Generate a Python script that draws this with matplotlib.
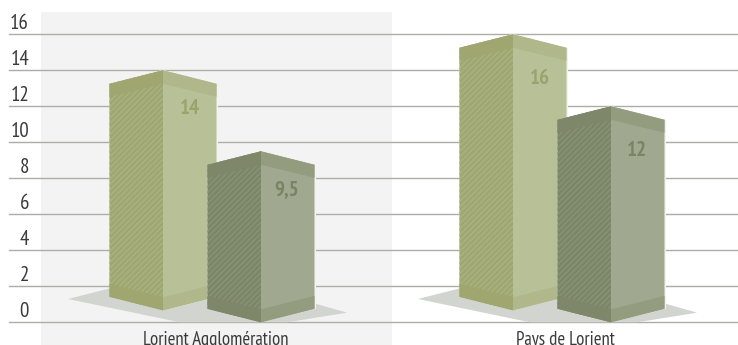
import logging
import matplotlib.pyplot as plt
from matplotlib.patches import Polygon, Rectangle

logging.getLogger('matplotlib.font_manager').setLevel(logging.ERROR)
plt.rcParams['font.family'] = ['PT Sans Narrow', 'Roboto Condensed', 'Liberation Sans', 'DejaVu Sans']
plt.rcParams['hatch.linewidth'] = 1.5

# Data
categories = ["Lorient Agglomération", "Pays de Lorient"]
series_a = [14, 16]
series_b = [9.5, 12]
value_labels_a = ["14", "16"]
value_labels_b = ["9,5", "12"]
y_ticks = [0, 2, 4, 6, 8, 10, 12, 14, 16]

# Layout, in pixels of the 738x345 picture
W, H = 738, 345
PX = 18.0          # pixels for one unit of value
Y0 = 322.3         # pixel row of value 0
GROUP_STEP = 350
HALF = 53.5        # half width of a bar
CAP = 13.5         # drop from the peak to the side corners
BAND = 13.0        # height of the pale bands, top and bottom


def v(px):
    """ pixel rows to value units """
    return (Y0 - px) / PX


def draw_bar(ax, mid, value, base, c, z):
    """ one fake 3D bar: mid is the pixel column of the front edge,
    base the height in pixels of its foot above the zero line """
    top = value
    foot = base / PX
    cap = CAP / PX
    band = BAND / PX
    l, r = mid - HALF, mid + HALF

    # thin pale halo that cuts the grid lines
    ax.add_patch(Polygon([(l, top - cap), (mid, top + 0.03), (r + 1.5, top - cap),
                          (r + 1.5, foot + cap), (mid, foot), (l, foot + cap)],
                         fc='#f2f3ec', ec='none', zorder=z))

    # left face with its stripes
    ax.add_patch(Polygon([(l, top - cap), (mid, top), (mid, foot), (l, foot + cap)],
                         fc=c['left'], ec=c['stripe'], hatch='//////', lw=0, zorder=z + 0.1))
    # right face
    ax.add_patch(Polygon([(mid, top), (r, top - cap), (r, foot + cap), (mid, foot)],
                         fc=c['right'], ec='none', zorder=z + 0.1))
    # top bands
    ax.add_patch(Polygon([(l, top - cap), (mid, top), (mid, top - cap), (l, top - cap - band)],
                         fc=c['dark'], ec='none', zorder=z + 0.2))
    ax.add_patch(Polygon([(mid, top), (r, top - cap), (r, top - cap - band), (mid, top - cap)],
                         fc=c['mid'], ec='none', zorder=z + 0.2))
    # bottom bands
    ax.add_patch(Polygon([(l, foot + cap + band), (mid, foot + band), (mid, foot), (l, foot + cap)],
                         fc=c['dark'], ec='none', zorder=z + 0.2))
    ax.add_patch(Polygon([(mid, foot + band), (r, foot + cap + band), (r, foot + cap), (mid, foot)],
                         fc=c['mid'], ec='none', zorder=z + 0.2))


light = {'left': '#9da66f', 'stripe': '#a7af7e', 'right': '#b8c098',
         'dark': '#9fa670', 'mid': '#b0b78a', 'text': '#9ba36c'}
dark = {'left': '#7a8567', 'stripe': '#858f72', 'right': '#a0a88f',
        'dark': '#7f876a', 'mid': '#949c80', 'text': '#7a8463'}

fig = plt.figure(figsize=(W / 100, H / 100), dpi=100)
ax = fig.add_axes([0, 0, 1, 1])
ax.set_xlim(0, W)
ax.set_ylim(v(H), v(0))
ax.axis('off')

# grey panel behind the first group
ax.add_patch(Rectangle((41, v(H)), 351, v(12) - v(H), fc='#f3f3f3', ec='none', zorder=0))

# grid and tick labels
for tick in y_ticks:
    ax.plot([9, W], [tick, tick], color='#adada8', lw=1.0, zorder=1)
    ax.text(29, tick + 10.5 / PX, str(tick), ha='right', va='center',
            fontsize=15, color='#3a3a3a', zorder=8)

label_drop = [38.5, 44]
for i, cat in enumerate(categories):
    dx = i * GROUP_STEP

    # floor shadow, cut by the zero line
    ax.add_patch(Polygon([(68 + dx, v(299)), (190 + dx, v(268)), (347 + dx, v(312.7)),
                          (287 + dx, v(322.3)), (180 + dx, v(322.3))],
                         fc='#d2d4cf', ec='none', zorder=2))

    draw_bar(ax, 163 + dx, series_a[i], 12.0, light, 3)
    draw_bar(ax, 261 + dx, series_b[i], 0.0, dark, 4)

    ax.text(189.5 + dx, series_a[i] - label_drop[i] / PX, value_labels_a[i], ha='center', va='center',
            fontsize=15, fontweight='bold', color=light['text'], zorder=8)
    ax.text(287 + dx, series_b[i] - label_drop[i] / PX, value_labels_b[i], ha='center', va='center',
            fontsize=15, fontweight='bold', color=dark['text'], zorder=8)

    # the reference cuts these labels at its lower edge
    ax.text(215.5 + dx, v(345), cat, ha='center', va='baseline',
            fontsize=13.5, color='#3a3a3a', zorder=8)

fig.savefig('out.png', dpi=100)
